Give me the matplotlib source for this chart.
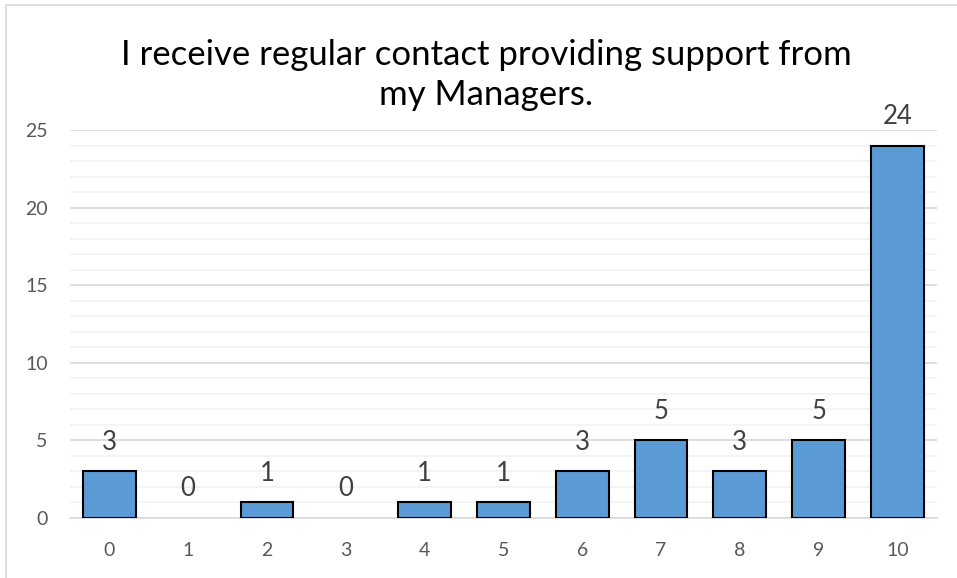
import matplotlib.pyplot as plt
from matplotlib.lines import Line2D
from matplotlib.ticker import MultipleLocator

# datos
categorias = ['0', '1', '2', '3', '4', '5', '6', '7', '8', '9', '10']
respuestas = [3, 0, 1, 0, 1, 1, 3, 5, 3, 5, 24]
titulo = 'I receive regular contact providing support from\nmy Managers.'

plt.rcParams['font.family'] = ['Lato', 'DejaVu Sans']

fig = plt.figure(figsize=(9.57, 5.78), dpi=100)
ax = fig.add_axes([0.073, 0.1038, 0.906, 0.6713])

x = range(len(categorias))
# las barras en cero no llevan borde
bordes = ['black' if v > 0 else 'none' for v in respuestas]
ax.bar(x, respuestas, width=0.67, color='#5B9BD5', edgecolor=bordes,
       linewidth=1.5, zorder=3)

for xi, v in zip(x, respuestas):
    ax.annotate(str(v), (xi, v), xytext=(0, 12), textcoords='offset points',
                ha='center', va='bottom', fontsize=18.5, color='#404040')

ax.set_xlim(-0.5, len(categorias) - 0.5)
ax.set_ylim(0, 25)
ax.set_xticks(list(x))
ax.set_xticklabels(categorias)
ax.yaxis.set_major_locator(MultipleLocator(5))
ax.yaxis.set_minor_locator(MultipleLocator(1))
ax.grid(axis='y', which='major', color='#D9D9D9', linewidth=1.2, zorder=0)
ax.grid(axis='y', which='minor', color='#F2F2F2', linewidth=1.2, zorder=0)
ax.tick_params(axis='both', which='both', length=0, labelsize=14,
               labelcolor='#595959')
ax.tick_params(axis='x', pad=17)
ax.tick_params(axis='y', pad=16)
for lado in ['top', 'right', 'left']:
    ax.spines[lado].set_visible(False)
ax.spines['bottom'].set_color('#D9D9D9')
ax.spines['bottom'].set_linewidth(1.2)

fig.text(0.508, 0.870, titulo, ha='center', va='center', fontsize=25,
         color='black', linespacing=1.32)

# borde del area del grafico (solo arriba e izquierda visibles)
fig.add_artist(Line2D([6 / 957, 6 / 957], [0, 1 - 5 / 578],
                      transform=fig.transFigure, color='#D9D9D9', linewidth=1.2))
fig.add_artist(Line2D([6 / 957, 1], [1 - 5 / 578, 1 - 5 / 578],
                      transform=fig.transFigure, color='#D9D9D9', linewidth=1.2))

fig.savefig('out.png', dpi=100)
